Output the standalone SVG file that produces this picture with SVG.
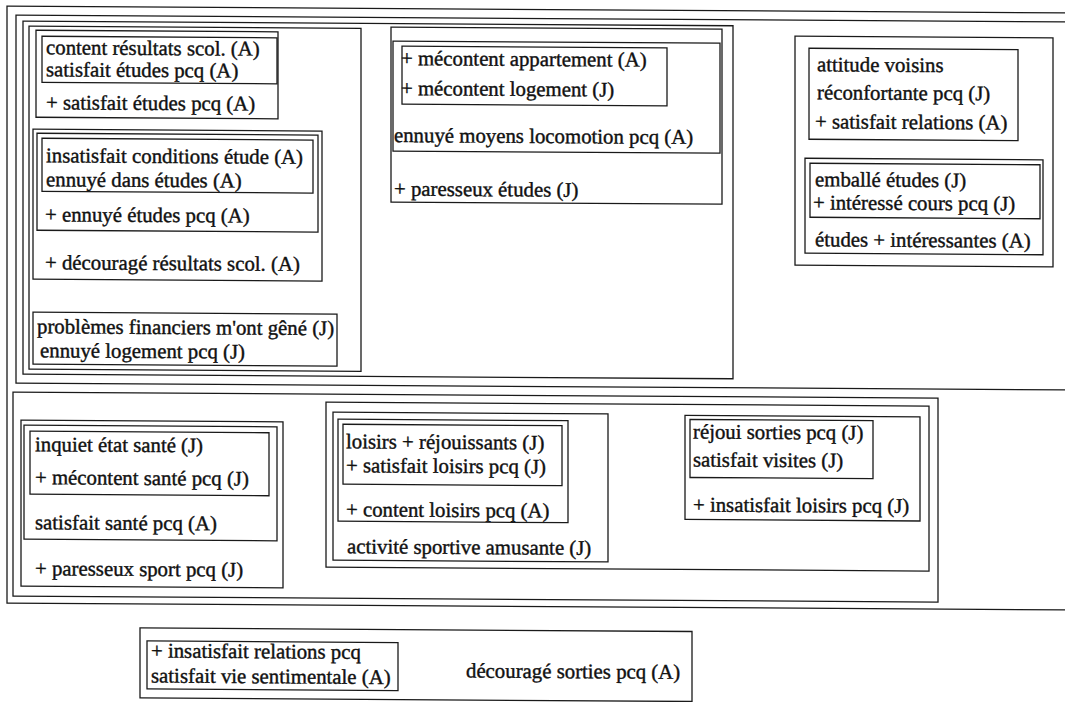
<svg xmlns="http://www.w3.org/2000/svg" width="1065" height="702" viewBox="0 0 1065 702">
<style>
.f{fill:none;stroke:#1a1a1a;stroke-width:1.3}
.t text{font-size:20.8px;fill:#111;stroke:#111;stroke-width:0.4}
</style>
<rect width="1065" height="702" fill="#fff"/>
<g transform="skewY(0.372)" class="t" font-family="'Liberation Serif', 'Times New Roman', 'DejaVu Serif', serif">
  <g id="frames">
    <rect id="frame-all" class="f" x="7" y="6" width="1100" height="597"/>
    <rect id="frame-top" class="f" x="16" y="15" width="1100" height="368"/>
    <rect id="frame-top-left-middle" class="f" x="23" y="21" width="710" height="353"/>
    <rect id="frame-top-left" class="f" x="29" y="26" width="332" height="343"/>
    <rect id="frame-bottom" class="f" x="13" y="392" width="925" height="204"/>
    <rect id="frame-bottom-middle" class="f" x="326" y="400" width="603" height="165"/>
  </g>
  <g id="connectors"/>

  <g id="node-resultats">
    <rect class="f" x="36" y="30" width="242" height="87"/>
    <rect class="f" x="42" y="36" width="235" height="46"/>
    <text x="46" y="54">content résultats scol. (A)</text>
    <text x="46" y="76">satisfait études pcq (A)</text>
    <text x="46" y="109">+ satisfait études pcq (A)</text>
  </g>

  <g id="node-ennui-etudes">
    <rect class="f" x="33" y="129" width="289" height="150"/>
    <rect class="f" x="37" y="133" width="281" height="97"/>
    <rect class="f" x="42" y="138" width="271" height="53"/>
    <text x="46" y="162">insatisfait conditions étude (A)</text>
    <text x="46" y="186">ennuyé dans études (A)</text>
    <text x="45" y="221">+ ennuyé études pcq (A)</text>
    <text x="45" y="269">+ découragé résultats scol. (A)</text>
  </g>

  <g id="node-financiers">
    <rect class="f" x="33" y="312" width="304" height="52"/>
    <text x="37" y="333">problèmes financiers m'ont gêné (J)</text>
    <text x="40" y="357">ennuyé logement pcq (J)</text>
  </g>

  <g id="node-logement">
    <rect class="f" x="391" y="24.5" width="331" height="175"/>
    <rect class="f" x="393" y="38.5" width="327" height="110"/>
    <rect class="f" x="402" y="43.6" width="265" height="58"/>
    <text x="401" y="62.5">+ mécontent appartement (A)</text>
    <text x="401" y="92.5">+ mécontent logement (J)</text>
    <text x="394" y="139.5">ennuyé moyens locomotion pcq (A)</text>
    <text x="394" y="193">+ paresseux études (J)</text>
  </g>

  <g id="node-voisins">
    <rect class="f" x="795" y="31" width="258" height="229"/>
    <rect class="f" x="809" y="43" width="209" height="91"/>
    <text x="817" y="66">attitude voisins</text>
    <text x="817" y="94">réconfortante pcq (J)</text>
    <text x="815" y="123">+ satisfait relations (A)</text>
    <rect class="f" x="805" y="153" width="238" height="95"/>
    <rect class="f" x="810" y="158" width="230" height="54"/>
    <text x="815" y="181">emballé études (J)</text>
    <text x="813" y="204">+ intéressé cours pcq (J)</text>
    <text x="815" y="241">études + intéressantes (A)</text>
  </g>

  <g id="node-sante">
    <rect class="f" x="21" y="420" width="262" height="166"/>
    <rect class="f" x="24" y="425" width="253" height="114"/>
    <rect class="f" x="30" y="431" width="239" height="63"/>
    <text x="35" y="451">inquiet état santé (J)</text>
    <text x="35" y="484">+ mécontent santé pcq (J)</text>
    <text x="35" y="529">satisfait santé pcq (A)</text>
    <text x="35" y="575">+ paresseux sport pcq (J)</text>
  </g>

  <g id="node-loisirs">
    <rect class="f" x="333" y="410" width="275" height="148"/>
    <rect class="f" x="338" y="417" width="230" height="102"/>
    <rect class="f" x="343" y="422" width="219" height="60"/>
    <text x="346" y="446">loisirs + réjouissants (J)</text>
    <text x="346" y="470">+ satisfait loisirs pcq (J)</text>
    <text x="346" y="514">+ content loisirs pcq (A)</text>
    <text x="347" y="551">activité sportive amusante (J)</text>
  </g>

  <g id="node-sorties">
    <rect class="f" x="685" y="411" width="235" height="104"/>
    <rect class="f" x="690" y="415" width="183" height="58"/>
    <text x="693" y="434">réjoui sorties pcq (J)</text>
    <text x="693" y="462">satisfait visites (J)</text>
    <text x="693" y="507">+ insatisfait loisirs pcq (J)</text>
  </g>

  <g id="node-relations">
    <rect class="f" x="140" y="627" width="552" height="70"/>
    <rect class="f" x="147" y="640" width="251" height="48"/>
    <text x="151" y="656.5">+ insatisfait relations pcq</text>
    <text x="151" y="681.5">satisfait vie sentimentale (A)</text>
    <text x="466" y="674.5">découragé sorties pcq (A)</text>
  </g>
</g>
</svg>
